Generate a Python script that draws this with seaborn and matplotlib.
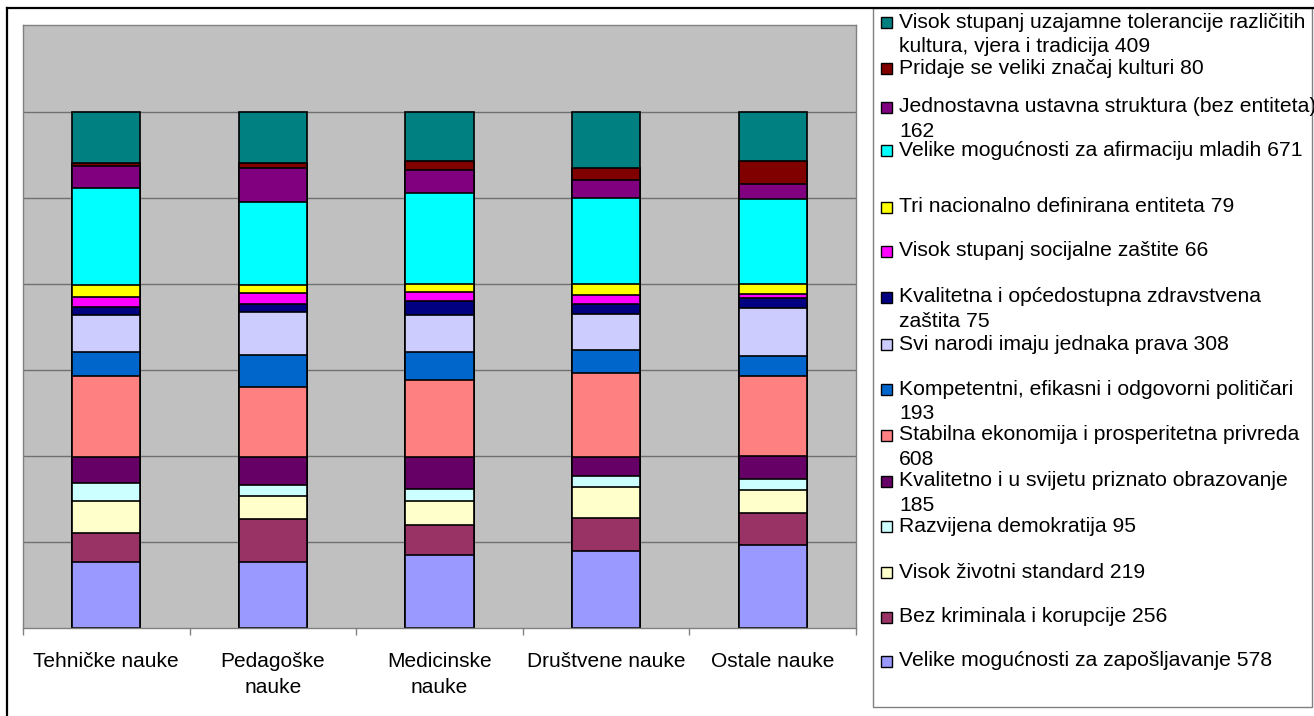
import matplotlib
matplotlib.use("Agg")
import matplotlib.pyplot as plt
from matplotlib.patches import Rectangle
from matplotlib.lines import Line2D
import seaborn as sns
import pandas as pd
import numpy as np

# ---- data (percent of answers per group, bottom -> top) ----
categories = ["Tehničke nauke", "Pedagoške\nnauke", "Medicinske\nnauke",
              "Društvene nauke", "Ostale nauke"]

series_labels = [
    "Velike mogućnosti za zapošljavanje 578",
    "Bez kriminala i korupcije 256",
    "Visok životni standard 219",
    "Razvijena demokratija 95",
    "Kvalitetno i u svijetu priznato obrazovanje\n185",
    "Stabilna ekonomija i prosperitetna privreda\n608",
    "Kompetentni, efikasni i odgovorni političari\n193",
    "Svi narodi imaju jednaka prava 308",
    "Kvalitetna i općedostupna zdravstvena\nzaštita 75",
    "Visok stupanj socijalne zaštite 66",
    "Tri nacionalno definirana entiteta 79",
    "Velike mogućnosti za afirmaciju mladih 671",
    "Jednostavna ustavna struktura (bez entiteta)\n162",
    "Pridaje se veliki značaj kulturi 80",
    "Visok stupanj uzajamne tolerancije različitih\nkultura, vjera i tradicija 409",
]

tehnicke   = [12.7, 5.7, 6.3, 3.4, 5.0, 15.8, 4.5, 7.2, 1.6, 1.9, 2.4, 18.7, 4.4, 0.5, 9.9]
pedagoske  = [12.7, 8.5, 4.4, 2.2, 5.3, 13.7, 6.2, 8.2, 1.6, 2.1, 1.6, 16.1, 6.5, 1.0, 9.9]
medicinske = [14.1, 5.9, 4.7, 2.2, 6.3, 14.9, 5.4, 7.2, 2.6, 1.8, 1.6, 17.6, 4.4, 1.9, 9.4]
drustvene  = [15.0, 6.3, 6.0, 2.2, 3.7, 16.2, 4.5, 7.0, 1.9, 1.7, 2.1, 16.8, 3.4, 2.3, 10.9]
ostale     = [16.0, 6.3, 4.4, 2.2, 4.4, 15.5, 3.9, 9.4, 1.9, 0.8, 1.9, 16.5, 2.9, 4.4, 9.5]

colors = ["#9999FF", "#993366", "#FFFFCC", "#CCFFFF", "#660066", "#FF8080",
          "#0066CC", "#CCCCFF", "#000080", "#FF00FF", "#FFFF00", "#00FFFF",
          "#800080", "#800000", "#008080"]

# ---- build table ----
rows = []
for cat, vals in zip(categories, [tehnicke, pedagoske, medicinske, drustvene, ostale]):
    top = np.cumsum(vals)
    for s, v, t in zip(series_labels, vals, top):
        rows.append({"category": cat, "series": s, "value": v, "top": t})
df = pd.DataFrame(rows)

W, H = 1314, 716
fig = plt.figure(figsize=(W / 100, H / 100), dpi=100)
fig.patch.set_facecolor("white")

def fx(x):
    return x / W

def fy(y):
    return 1 - y / H

ax = fig.add_axes([fx(23), fy(628), fx(856) - fx(23), fy(25) - fy(628)])
ax.set_facecolor("#C0C0C0")

# stacked bars: draw cumulative tops from tallest to shortest
for s, c in reversed(list(zip(series_labels, colors))):
    sub = df[df["series"] == s]
    sns.barplot(data=sub, x="category", y="top", order=categories, color=c,
                saturation=1, width=0.41, edgecolor="black", linewidth=1.2,
                errorbar=None, ax=ax)

ymax = 100 * (628 - 25) / 516
ax.set_ylim(0, ymax)
ax.set_xlim(-0.5, len(categories) - 0.5)
grid_vals = np.arange(1, 7) * 100 / 6
ax.set_yticks(grid_vals)
ax.set_yticklabels([])
ax.tick_params(axis="y", length=0)
ax.yaxis.grid(True, color="#707070", linewidth=1.0)
ax.xaxis.grid(False)
ax.set_axisbelow(True)
ax.set_xlabel("")
ax.set_ylabel("")

ax.set_xticks(range(len(categories)))
ax.set_xticklabels(categories, fontsize=15, family="Liberation Sans")
ax.set_xticks(np.arange(-0.5, len(categories), 1.0), minor=True)
ax.tick_params(axis="x", which="major", length=0, pad=17)
ax.tick_params(axis="x", which="minor", length=5, color="#808080", width=1)
for t in ax.get_xticklabels():
    t.set_linespacing(1.5)
for sp in ax.spines.values():
    sp.set_color("#808080")
    sp.set_linewidth(1.0)

# ---- legend (manual, Excel-style) ----
fig.add_artist(Rectangle((fx(873), fy(707)), fx(1312) - fx(873), fy(8) - fy(707),
                         transform=fig.transFigure, facecolor="white",
                         edgecolor="#808080", linewidth=1.0, zorder=1))
legend_y = [661, 617, 572, 526, 481, 435, 389, 344, 297, 251, 207, 150, 107, 68, 22]
for lab, c, y in zip(series_labels, colors, legend_y):
    fig.add_artist(Rectangle((fx(881), fy(y + 6)), fx(892) - fx(881), fy(y - 5) - fy(y + 6),
                             transform=fig.transFigure, facecolor=c,
                             edgecolor="black", linewidth=1.0, zorder=3))
    for i, line in enumerate(lab.split("\n")):
        fig.text(fx(899), fy(y + i * 24.5), line, fontsize=15.2,
                 family="Liberation Sans", va="center", ha="left", zorder=3)

# outer frame
fig.add_artist(Line2D([fx(7), fx(1314)], [fy(8), fy(8)], transform=fig.transFigure,
                      color="black", linewidth=1.6, zorder=5))
fig.add_artist(Line2D([fx(7), fx(7)], [fy(8), fy(716)], transform=fig.transFigure,
                      color="black", linewidth=1.6, zorder=5))

fig.savefig("out.png", dpi=100)
